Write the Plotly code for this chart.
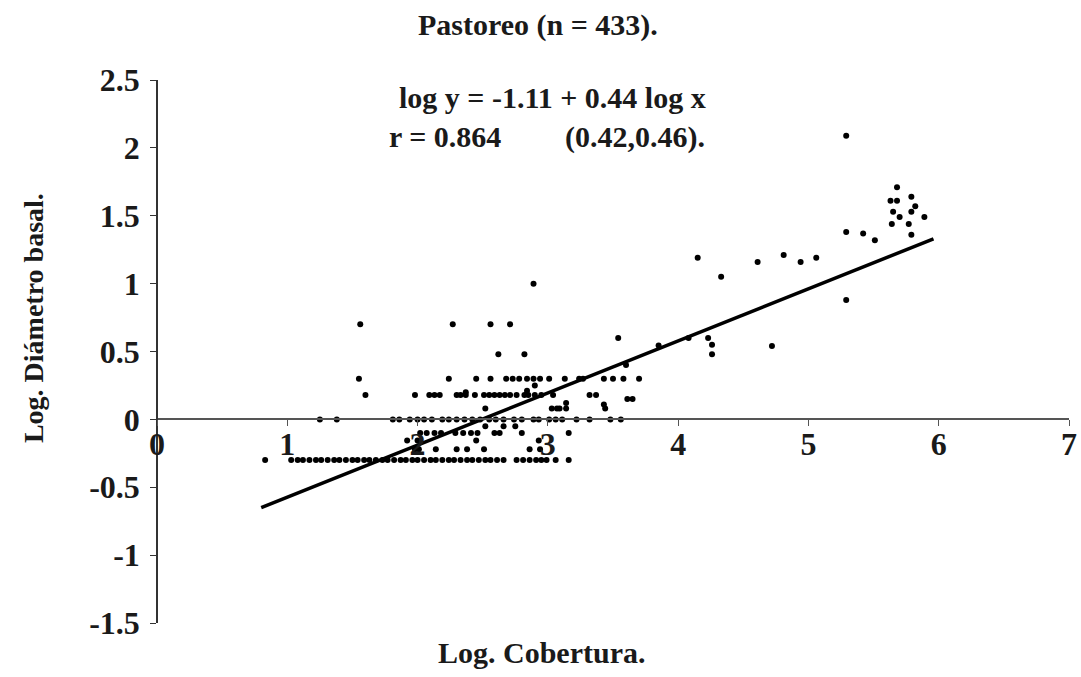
import plotly.graph_objects as go

# ---- data (log cobertura per log diametro level) ----
cob_m030 = [0.83, 1.03, 1.08, 1.12, 1.17, 1.22, 1.26, 1.31, 1.36, 1.40, 1.45, 1.50, 1.54,
            1.59, 1.63, 1.68, 1.73, 1.77, 1.82, 1.87, 1.91, 1.96, 2.00, 2.05, 2.10, 2.14,
            2.19, 2.24, 2.28, 2.33, 2.38, 2.42, 2.47, 2.52, 2.56, 2.61, 2.66, 2.76, 2.81,
            2.86, 2.91, 2.95, 2.99, 3.06, 3.16]
cob_m022 = [1.98, 2.01, 2.14, 2.30, 2.38, 2.51, 2.86, 2.94]
cob_m015 = [1.92, 2.00, 2.45, 2.93]
cob_m010 = [2.02, 2.07, 2.13, 2.18, 2.29, 2.35, 2.41, 2.46, 2.59, 2.63, 2.80, 3.16]
cob_m005 = [2.52, 2.66, 2.75]
cob_000 = [1.25, 1.38, 1.81, 1.86, 1.94, 2.00, 2.05, 2.11, 2.19, 2.24, 2.30, 2.36, 2.42,
           2.48, 2.55, 2.60, 2.66, 2.74, 2.80, 2.89, 2.93, 3.01, 3.06, 3.11, 3.22, 3.32,
           3.48, 3.56]
cob_008 = [2.52, 3.03, 3.07, 3.09, 3.14, 3.44]
cob_015 = [3.61, 3.65]
cob_018 = [1.60, 1.98, 2.09, 2.13, 2.17, 2.30, 2.33, 2.37, 2.44, 2.51, 2.55, 2.59, 2.63,
           2.67, 2.71, 2.76, 2.82, 2.85, 2.90, 2.95, 3.04, 3.32, 3.37]
cob_030 = [1.55, 2.24, 2.45, 2.56, 2.68, 2.73, 2.78, 2.84, 2.89, 2.94, 3.01, 3.13, 3.24,
           3.27, 3.43, 3.50, 3.58, 3.70]
cob_048 = [2.62, 2.82, 4.26]
cob_060 = [3.54, 4.08, 4.23]
cob_070 = [1.56, 2.27, 2.56, 2.71]
cob_100 = [2.89]

diam_levels = [-0.30, -0.22, -0.155, -0.10, -0.05, 0.0, 0.08, 0.15, 0.18, 0.30, 0.48, 0.60, 0.70, 1.0]

other_x = [2.37, 2.84, 2.90, 3.14, 3.43, 3.60, 3.85, 4.26, 4.72,
           4.15, 4.33, 4.61, 4.81, 4.94, 5.06, 5.29, 5.42, 5.51, 5.29, 5.29,
           5.68, 5.63, 5.68, 5.79, 5.82, 5.65, 5.70, 5.79, 5.89, 5.64, 5.77, 5.79]
other_y = [0.20, 0.21, 0.25, 0.12, 0.11, 0.40, 0.545, 0.55, 0.54,
           1.19, 1.05, 1.16, 1.21, 1.16, 1.19, 1.38, 1.37, 1.32, 0.88, 2.09,
           1.71, 1.61, 1.61, 1.64, 1.57, 1.53, 1.49, 1.53, 1.49, 1.44, 1.44, 1.36]

fit_x = [0.80, 5.96]
fit_y = [-0.65, 1.33]

x_ticks = [0, 1, 2, 3, 4, 5, 6, 7]
y_ticks = [-1.5, -1, -0.5, 0, 0.5, 1, 1.5, 2, 2.5]
y_tick_text = ["-1.5", "-1", "-0.5", "0", "0.5", "1", "1.5", "2", "2.5"]

title_text = "Pastoreo (n = 433)."
eq_text = "log y = -1.11 + 0.44 log x"
r_text = "r = 0.864"
ci_text = "(0.42,0.46)."
x_title = "Log. Cobertura."
y_title = "Log. Diámetro basal."

# ---- assemble ----
rows = [cob_m030, cob_m022, cob_m015, cob_m010, cob_m005, cob_000, cob_008, cob_015,
        cob_018, cob_030, cob_048, cob_060, cob_070, cob_100]
xs, ys = [], []
for lvl, row in zip(diam_levels, rows):
    xs.extend(row)
    ys.extend([lvl] * len(row))
xs.extend(other_x)
ys.extend(other_y)

FONT = "Liberation Serif"
INK = "#1a1a1a"
fig = go.Figure()
fig.add_trace(go.Scatter(x=xs, y=ys, mode="markers",
                         marker=dict(color="black", size=6), showlegend=False))
fig.add_trace(go.Scatter(x=fit_x, y=fit_y, mode="lines",
                         line=dict(color="black", width=3.5), showlegend=False))

tick_font = dict(family=FONT, size=32, color=INK, weight="bold")
fig.update_layout(
    width=1081, height=677,
    margin=dict(l=157, r=4, t=80, b=54),
    paper_bgcolor="white", plot_bgcolor="white",
    font=dict(family=FONT, color=INK, size=30, weight="bold"),
    xaxis=dict(range=[0, 7], tickvals=x_ticks, showgrid=False, zeroline=False,
               showline=True, linecolor="#555", linewidth=1.5,
               ticks="outside", ticklen=6, tickcolor="#555",
               anchor="free", position=0.375, ticklabeloverflow="allow",
               ticklabelstandoff=-10,
               tickfont=tick_font),
    yaxis=dict(range=[-1.5, 2.5], tickvals=y_ticks, ticktext=y_tick_text,
               showgrid=False, zeroline=False,
               showline=True, linecolor="#333", linewidth=1.5,
               ticks="outside", ticklen=6, tickcolor="#333",
               anchor="free", position=0, ticklabelstandoff=4,
               tickfont=tick_font),
)

ann_font = dict(family=FONT, size=30, color=INK, weight="bold")
fig.add_annotation(text=title_text, xref="paper", yref="paper",
                   x=(541 - 157) / 920, y=(623 - 25) / 543, showarrow=False,
                   font=ann_font, xanchor="center", yanchor="middle")
fig.add_annotation(text=eq_text, xref="paper", yref="paper",
                   x=(556 - 157) / 920, y=(623 - 97) / 543, showarrow=False,
                   font=ann_font, xanchor="center", yanchor="middle")
fig.add_annotation(text=r_text, xref="paper", yref="paper",
                   x=(389 - 157) / 920, y=(623 - 137) / 543, showarrow=False,
                   font=ann_font, xanchor="left", yanchor="middle")
fig.add_annotation(text=ci_text, xref="paper", yref="paper",
                   x=(567 - 157) / 920, y=(623 - 137) / 543, showarrow=False,
                   font=ann_font, xanchor="left", yanchor="middle")
fig.add_annotation(text=x_title, xref="paper", yref="paper",
                   x=(545 - 157) / 920, y=(623 - 652) / 543, showarrow=False,
                   font=ann_font, xanchor="center", yanchor="middle")
fig.add_annotation(text=y_title, xref="paper", yref="paper",
                   x=(32 - 157) / 920, y=(623 - 318) / 543, showarrow=False,
                   textangle=-90, font=dict(family=FONT, size=28, color=INK, weight="bold"),
                   xanchor="center", yanchor="middle")

fig.write_html("out.html")
